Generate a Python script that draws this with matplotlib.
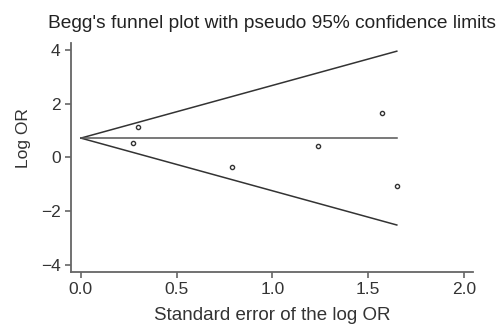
import numpy as np
import matplotlib.pyplot as plt

plt.rcParams['font.family'] = ['Liberation Sans', 'DejaVu Sans']

# study points (standard error, log OR)
se = [0.27, 0.30, 0.79, 1.24, 1.575, 1.65]
log_or = [0.53, 1.14, -0.35, 0.41, 1.64, -1.08]

pooled = 0.72
max_se = 1.65

fig = plt.figure(figsize=(5.03, 3.28), dpi=100)
ax = fig.add_axes([0.141, 0.171, 0.799, 0.698])

s = np.array([0.0, max_se])
ax.plot(s, pooled + 1.96 * s, color='#333333', lw=1.1)
ax.plot(s, pooled - 1.96 * s, color='#333333', lw=1.1)
ax.plot(s, [pooled, pooled], color='#555555', lw=1.1)
ax.scatter(se, log_or, s=9, facecolors='white', edgecolors='#333333', linewidths=1.0, zorder=3)

ax.set_xlim(-0.052, 2.047)
ax.set_ylim(-4.26, 4.26)
ax.set_xticks([0.0, 0.5, 1.0, 1.5, 2.0])
ax.set_yticks([-4, -2, 0, 2, 4])
ax.set_xticklabels(['0.0', '0.5', '1.0', '1.5', '2.0'])
ax.set_yticklabels(['\u22124', '\u22122', '0', '2', '4'])

for side in ['top', 'right']:
    ax.spines[side].set_visible(False)
for side in ['left', 'bottom']:
    ax.spines[side].set_color('#666666')
    ax.spines[side].set_linewidth(1.3)
ax.tick_params(colors='#666666', labelcolor='#333333', labelsize=12.5, length=4, width=1.2)

ax.set_xlabel('Standard error of the log OR', fontsize=13.5, color='#333333')
ax.xaxis.set_label_coords(0.5, -0.155)
ax.set_ylabel('Log OR', fontsize=12.5, color='#333333')
ax.yaxis.set_label_coords(-0.1, 0.585)
ax.set_title("Begg's funnel plot with pseudo 95% confidence limits", fontsize=13.8, color='#222222', pad=11)

fig.savefig('out.png', dpi=100)
